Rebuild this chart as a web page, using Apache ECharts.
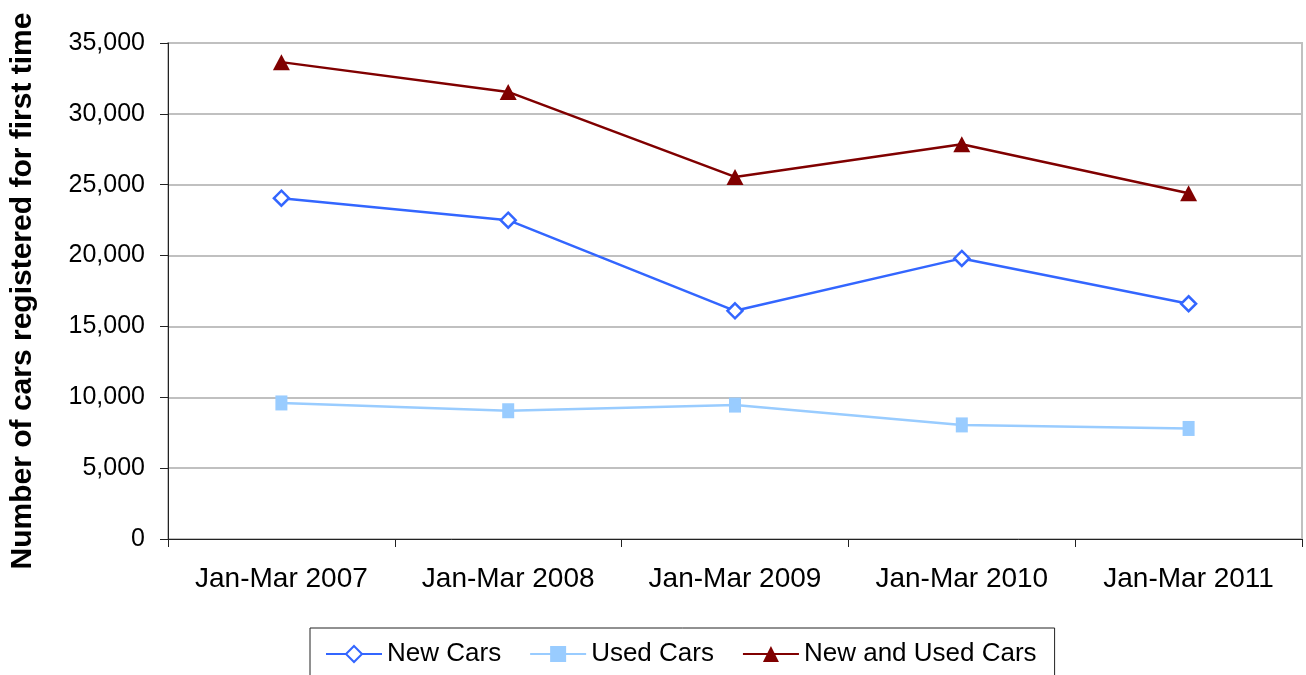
<!DOCTYPE html>
<html>
<head>
<meta charset="utf-8">
<script src="https://cdn.jsdelivr.net/npm/echarts@6/dist/echarts.min.js"></script>
<style>
  html, body { margin: 0; padding: 0; background: #fff; }
  #chart { width: 1306px; height: 675px; }
</style>
</head>
<body>
<div id="chart"></div>
<script>
// Quarterly first-time car registrations
const quarters = ['Jan-Mar 2007', 'Jan-Mar 2008', 'Jan-Mar 2009', 'Jan-Mar 2010', 'Jan-Mar 2011'];
const newCars = [24050, 22500, 16100, 19800, 16600];
const usedCars = [9600, 9050, 9450, 8050, 7800];
const newAndUsedCars = [33650, 31550, 25550, 27850, 24400];

const FONT = 'Liberation Sans, Arial, sans-serif';

const chart = echarts.init(document.getElementById('chart'), null, { renderer: 'canvas' });

chart.setOption({
  animation: false,
  backgroundColor: '#ffffff',
  textStyle: { fontFamily: FONT },
  grid: {
    left: 168, right: 4, top: 43, bottom: 136,
    show: true, borderColor: '#c0c0c0', borderWidth: 2
  },
  legend: {
    left: 310, top: 628,
    padding: [13, 18, 13, 15],
    borderColor: '#222', borderWidth: 1,
    itemWidth: 56, itemHeight: 20, itemGap: 28,
    textStyle: { fontSize: 26, color: '#000', fontFamily: FONT },
    data: ['New Cars', 'Used Cars', 'New and Used Cars']
  },
  xAxis: {
    type: 'category',
    data: quarters,
    boundaryGap: true,
    axisLine: { lineStyle: { color: '#222', width: 1 } },
    axisTick: { show: true, length: 8, lineStyle: { color: '#222' } },
    axisLabel: { fontSize: 28, color: '#000', margin: 26, fontFamily: FONT },
    splitLine: { show: false }
  },
  yAxis: {
    type: 'value',
    min: 0, max: 35000, interval: 5000,
    name: 'Number of cars registered for first time',
    nameLocation: 'middle',
    nameGap: 130,
    nameTextStyle: { fontSize: 30, fontWeight: 'bold', color: '#000', fontFamily: FONT },
    axisLine: { show: true, lineStyle: { color: '#222', width: 1 } },
    axisTick: { show: true, length: 8, lineStyle: { color: '#222' } },
    axisLabel: {
      fontSize: 25, color: '#000', margin: 23, fontFamily: FONT,
      formatter: v => v.toLocaleString('en-US')
    },
    splitLine: { show: true, lineStyle: { color: '#c0c0c0', width: 2 } }
  },
  series: [
    {
      name: 'New Cars',
      type: 'line',
      data: newCars,
      color: '#3366ff',
      lineStyle: { color: '#3366ff', width: 2.5 },
      symbol: 'diamond',
      symbolSize: 15,
      showAllSymbol: true,
      itemStyle: { color: '#ffffff', borderColor: '#3366ff', borderWidth: 2.5 },
      z: 3
    },
    {
      name: 'Used Cars',
      type: 'line',
      data: usedCars,
      color: '#99ccff',
      lineStyle: { color: '#99ccff', width: 2.5 },
      symbol: 'rect',
      symbolSize: [12, 15],
      itemStyle: { color: '#99ccff', borderWidth: 0 },
      z: 2
    },
    {
      name: 'New and Used Cars',
      type: 'line',
      data: newAndUsedCars,
      color: '#800000',
      lineStyle: { color: '#800000', width: 2.5 },
      symbol: 'triangle',
      symbolSize: [17, 16],
      itemStyle: { color: '#800000' },
      z: 4
    }
  ]
});
</script>
</body>
</html>
